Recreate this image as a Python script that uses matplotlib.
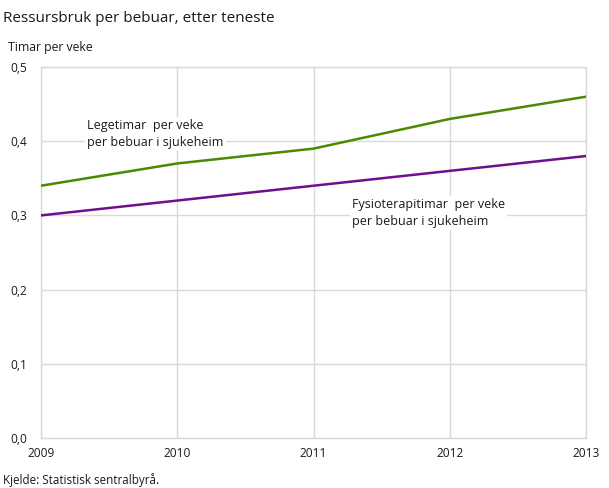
import matplotlib
matplotlib.use("Agg")
import matplotlib.pyplot as plt

plt.rcParams["font.family"] = ["Open Sans", "DejaVu Sans"]

years = [2009, 2010, 2011, 2012, 2013]
lege = [0.34, 0.37, 0.39, 0.43, 0.46]
fysio = [0.30, 0.32, 0.34, 0.36, 0.38]
y_ticks = [0.0, 0.1, 0.2, 0.3, 0.4, 0.5]

C_LEGE = "#4b8a00"
C_FYSIO = "#6f0f8e"
C_GRID = "#d9d9d9"
C_TEXT = "#1a1a1a"

fig = plt.figure(figsize=(6.09, 4.88), dpi=100)
ax = fig.add_axes([41 / 609, 50 / 488, 545 / 609, 371 / 488])

ax.plot(years, lege, color=C_LEGE, lw=1.8, zorder=3)
ax.plot(years, fysio, color=C_FYSIO, lw=1.8, zorder=3)

ax.set_xlim(2009, 2013)
ax.set_ylim(0, 0.5)
ax.set_xticks(years)
ax.set_xticklabels([str(y) for y in years])
ax.set_yticks(y_ticks)
ax.set_yticklabels([f"{v:.1f}".replace(".", ",") for v in y_ticks])
ax.grid(True, color=C_GRID, lw=1.0, zorder=0)
for s in ax.spines.values():
    s.set_color(C_GRID)
    s.set_linewidth(1.0)
ax.tick_params(length=0, labelsize=8.6, colors=C_TEXT)
ax.tick_params(axis="x", pad=6.5)
ax.tick_params(axis="y", pad=10)
for lab in ax.get_yticklabels():
    lab.set_verticalalignment("center_baseline")

# series labels (white box hides grid behind the text)
box = dict(facecolor="white", edgecolor="none", pad=1.5)
ax.text(2009.34, 0.41, "Legetimar  per veke\nper bebuar i sjukeheim",
        fontsize=9, color=C_TEXT, ha="left", va="center",
        linespacing=1.35, bbox=box, zorder=4)
ax.text(2011.28, 0.303, "Fysioterapitimar  per veke\nper bebuar i sjukeheim",
        fontsize=9, color=C_TEXT, ha="left", va="center",
        linespacing=1.35, bbox=box, zorder=4)

fig.text(3 / 609, 1 - 18 / 488, "Ressursbruk per bebuar, etter teneste",
         fontsize=11, color=C_TEXT, ha="left", va="center")
fig.text(8 / 609, 1 - 48 / 488, "Timar per veke",
         fontsize=8.8, color=C_TEXT, ha="left", va="center")
fig.text(3 / 609, 1 - 480 / 488, "Kjelde: Statistisk sentralbyrå.",
         fontsize=8.4, color=C_TEXT, ha="left", va="center")

fig.savefig("out.png", dpi=100)
